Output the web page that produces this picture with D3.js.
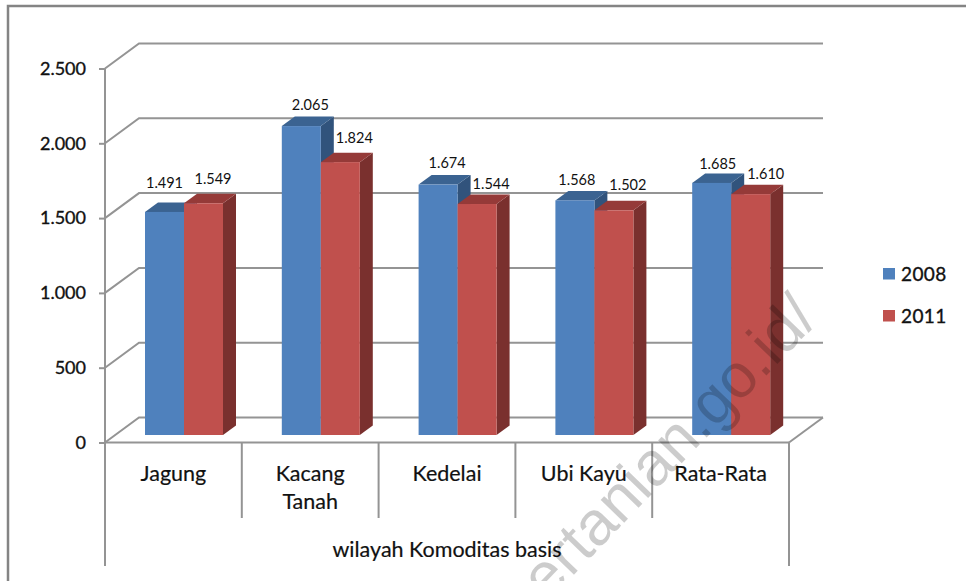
<!DOCTYPE html>
<html>
    <head>
        <meta charset="utf-8">
        <style>
            body { margin: 0; background: white; }
            text { font-family: Lato, sans-serif; fill: #111; }
            .wall { fill: none; stroke: #949494; stroke-width: 2; }
            .frame { fill: none; stroke: #848484; stroke-width: 2.5; }
            .axis_y path { display: none; }
            .axis_y line { stroke: #949494; stroke-width: 2; }
            .axis_y text { font-size: 18px; stroke: #111; stroke-width: 0.35px; }
            .cat { font-size: 21.5px; stroke: #111; stroke-width: 0.2px; }
            .valeur { font-size: 14.5px; }
            .legende { font-size: 19px; letter-spacing: 0.4px; stroke: #111; stroke-width: 0.35px; }
            .filigrane { font-family: "Liberation Sans", sans-serif; font-size: 62px; fill: #000; fill-opacity: 0.2; stroke: none; }
        </style>
    </head>
    <body>
        <div id="plateau"></div>
        <script src="https://cdn.jsdelivr.net/npm/d3@7"></script>
        <script>

//////////////////// donnees ////////////////////
let categories = ['Jagung', 'Kacang Tanah', 'Kedelai', 'Ubi Kayu', 'Rata-Rata'];
let annees = ['2008', '2011'];
let valeurs_2008 = [1491, 2065, 1674, 1568, 1685];
let valeurs_2011 = [1549, 1824, 1544, 1502, 1610];
let ticks_y = [0, 500, 1000, 1500, 2000, 2500];
let titre_axe = 'wilayah Komoditas basis';
let filigrane = 'ertanian.go.id/';

//////////////////// dimensions ////////////////////
let W = 966, H = 581;
let AX_G = 105, AX_D = 789, AX_H = 68.5, AX_B = 442.5;
let PROF_X = 34, PROF_Y = -25;       // profondeur du mur
let BAR_X = 13, BAR_Y = -9.5;        // profondeur des barres
let BASE_DY = -7.5;                  // les barres sont posees en retrait sur le sol

// decalage des etiquettes par rapport au haut de la barre
let decal_2008 = [[0, -29], [9, -22], [9, -22], [2, -21], [6, -19.5]];
let decal_2011 = [[9.5, -24.5], [14, -24.5], [14, -20.5], [14, -25.5], [15, -21]];

let couleurs = {
    '2008': { face: '#4f81bd', haut: '#3b6391', cote: '#31537c' },
    '2011': { face: '#c0504d', haut: '#953a38', cote: '#7a302e' }
};

let svg = d3.select('#plateau').append('svg')
    .attr('width', W)
    .attr('height', H)
    .style('display', 'block');

let y = d3.scaleLinear().domain([0, 2500]).range([AX_B, AX_H]);
let x = d3.scaleBand().domain(categories).range([AX_G, AX_D]);
let x_serie = d3.scaleBand().domain(annees).range([40, 118]);

//////////////////// cadre ////////////////////
svg.append('path')
    .classed('frame', true)
    .attr('d', `M 8 ${H} L 8 6 L ${W} 6`);

//////////////////// murs ////////////////////
ticks_y.forEach(t => {
    svg.append('path')
        .classed('wall', true)
        .attr('d', `M ${AX_G} ${y(t)} L ${AX_G+PROF_X} ${y(t)+PROF_Y} L ${AX_D+PROF_X} ${y(t)+PROF_Y}`);
});
svg.append('path')
    .classed('wall', true)
    .attr('d', `M ${AX_D} ${AX_B} L ${AX_D+PROF_X} ${AX_B+PROF_Y}`);

//////////////////// barres ////////////////////
function genBarres(annee, valeurs) {
    let c = couleurs[annee];
    let g = svg.append('g').attr('id', 'serie'+annee);
    let bw = x_serie.bandwidth();
    let x0 = (d, i) => x(categories[i]) + x_serie(annee);
    let haut = d => y(d) + BASE_DY;
    let bas = y(0) + BASE_DY;

    g.selectAll('.cote').data(valeurs).join('path')
        .attr('fill', c.cote)
        .attr('d', (d, i) => `M ${x0(d,i)+bw} ${haut(d)} l ${BAR_X} ${BAR_Y} L ${x0(d,i)+bw+BAR_X} ${bas+BAR_Y} L ${x0(d,i)+bw} ${bas} Z`);
    g.selectAll('.haut').data(valeurs).join('path')
        .attr('fill', c.haut)
        .attr('d', (d, i) => `M ${x0(d,i)} ${haut(d)} l ${BAR_X} ${BAR_Y} h ${bw} l ${-BAR_X} ${-BAR_Y} Z`);
    g.selectAll('rect').data(valeurs).join('rect')
        .attr('fill', c.face)
        .attr('x', x0)
        .attr('y', haut)
        .attr('width', bw)
        .attr('height', d => bas - haut(d));
    return { x0, haut, bw };
}

let series = [[annees[0], valeurs_2008, decal_2008], [annees[1], valeurs_2011, decal_2011]];
let geos = series.map(s => genBarres(s[0], s[1]));

//////////////////// axes ////////////////////
let fmt = d3.formatLocale({ decimal: ',', thousands: '.', grouping: [3], currency: ['', ''] }).format(',d');

svg.append('g')
    .classed('axis_y', true)
    .attr('transform', `translate(${AX_G}, 0)`)
    .call(d3.axisLeft(y).tickValues(ticks_y).tickFormat(fmt).tickSize(6).tickPadding(13));

let axe_x = svg.append('g');
axe_x.append('path')
    .classed('wall', true)
    .attr('d', `M ${AX_G} ${AX_H} L ${AX_G} 566 M ${AX_G} ${AX_B} L ${AX_D} ${AX_B} M ${AX_D} ${AX_B} L ${AX_D} 566`);
categories.slice(1).forEach(c => {
    axe_x.append('path')
        .classed('wall', true)
        .attr('d', `M ${x(c)} ${AX_B} L ${x(c)} 518`);
});
categories.forEach(c => {
    let t = axe_x.append('text')
        .classed('cat', true)
        .attr('text-anchor', 'middle');
    let lignes = c.length > 10 ? c.split(' ') : [c];
    lignes.forEach((l, i) => {
        t.append('tspan')
            .attr('x', x(c) + x.bandwidth()/2)
            .attr('y', 481 + i*28)
            .text(l);
    });
});
axe_x.append('text')
    .classed('cat', true)
    .attr('text-anchor', 'middle')
    .attr('x', 447)
    .attr('y', 557)
    .text(titre_axe);

//////////////////// etiquettes ////////////////////
series.forEach((s, k) => {
    let geo = geos[k];
    svg.append('g').selectAll('text').data(s[1]).join('text')
        .classed('valeur', true)
        .attr('text-anchor', 'middle')
        .attr('dominant-baseline', 'central')
        .attr('x', (d, i) => geo.x0(d, i) + geo.bw/2 + s[2][i][0])
        .attr('y', (d, i) => geo.haut(d) + s[2][i][1])
        .text(fmt);
});

//////////////////// legende ////////////////////
annees.forEach((a, i) => {
    let g = svg.append('g').attr('transform', `translate(883, ${268 + i*42})`);
    g.append('rect')
        .attr('width', 12)
        .attr('height', 11.5)
        .attr('fill', couleurs[a].face);
    g.append('text')
        .classed('legende', true)
        .attr('x', 18)
        .attr('y', 13)
        .text(a);
});

//////////////////// filigrane ////////////////////
svg.append('text')
    .classed('filigrane', true)
    .attr('text-anchor', 'end')
    .attr('transform', 'translate(820, 320) rotate(-46)')
    .text(filigrane);

        </script>
    </body>
</html>
